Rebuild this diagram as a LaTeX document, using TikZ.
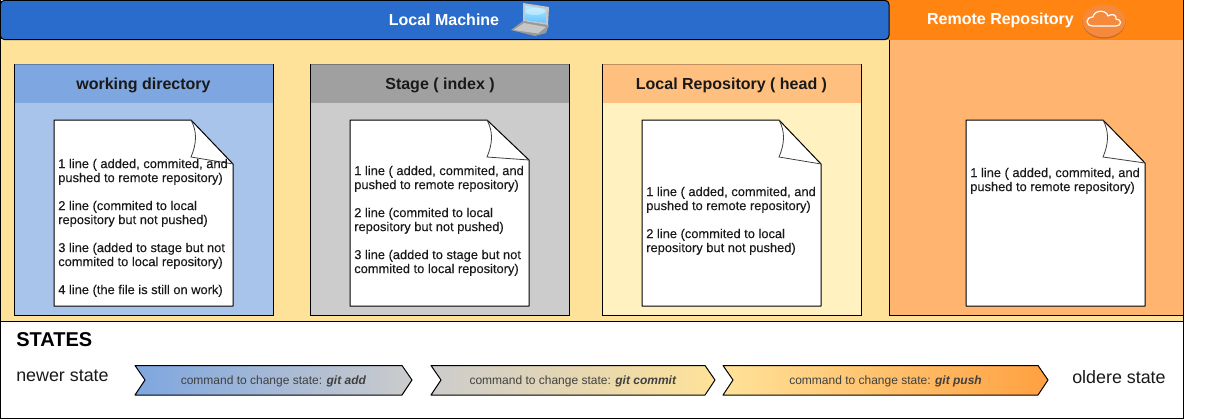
\documentclass[tikz,border=0pt]{standalone}
\usepackage{fontspec}
\setmainfont{Liberation Sans}
\newfontfamily\notefont[FakeBold=0.12]{Liberation Sans}
\usetikzlibrary{shapes.geometric}
\definecolor{cream}{HTML}{FFE299}
\definecolor{hblue}{HTML}{2A6CCB}
\definecolor{horange}{HTML}{FF8412}
\definecolor{lorange}{HTML}{FFB570}
\definecolor{lrh}{HTML}{FFC07F}
\definecolor{wdh}{HTML}{7EA6E0}
\definecolor{wdb}{HTML}{A9C4EB}
\definecolor{sth}{HTML}{A0A0A0}
\definecolor{stb}{HTML}{CCCCCC}
\definecolor{lrb}{HTML}{FFF2C0}
\definecolor{midorange}{HTML}{FFA040}
\definecolor{cloudface}{HTML}{F5893C}
\definecolor{cloudedge}{HTML}{B9652F}
\tikzset{
  x=0.75pt,y=-0.75pt,
  line/.style={draw=black,line width=0.75pt},
  paneltitle/.style={font=\fontsize{12}{14}\selectfont\bfseries,text=black!90,inner sep=0pt},
  headtitle/.style={font=\fontsize{12}{14}\selectfont\bfseries,text=white,inner sep=0pt},
  notetext/.style={font=\notefont\fontsize{9.65}{10.5}\selectfont,align=left,anchor=north west,inner sep=0pt,text=black!90},
  notepaper/.style={fill=white,draw=black,line width=0.75pt,line join=round},
  chevlabel/.style={font=\fontsize{9}{11}\selectfont,inner sep=0pt,text=black!75},
  statelabel/.style={font=\fontsize{13.4}{16}\selectfont,inner sep=0pt,text=black!90,anchor=base west},
}
\newcommand{\notepage}[2]{%
  \fill[white,notepaper] (#1,120) -- (#1+137,120) -- (#1+179,#2) -- (#1+179,306) -- (#1,306) -- cycle;
  \draw[black!75,line width=0.6pt] (#1+137,120) .. controls (#1+143,131) and (#1+143,143) .. (#1+137,157) -- (#1+179,#2);
}
\newcommand{\panelbox}[5]{%
  \fill[#5] (#1,64) rectangle (#2,#3);
  \fill[#4] (#1,64) rectangle (#2,103);
  \draw[#4!75!black,line width=0.75pt] (#1,64) -- (#2,64);
  \draw[black,line width=0.75pt] (#1,64) |- (#2,#3) -- (#2,64);
}
\newcommand{\chev}[6]{%
  \path[draw=black,line width=0.75pt,line join=round,left color=#5,right color=#6,shading angle=90]
    (#1,365.5) -- (#2,365.5) -- (#2+10,380) -- (#2,395) -- (#1,395) -- (#1+10,380) -- cycle;
  \node[chevlabel] (#3) at ({(#1+#2)/2+5},381) {#4};
}
\begin{document}
\begin{tikzpicture}
\useasboundingbox (0,0) rectangle (1220,419);
\fill[white] (0,0) rectangle (1220,419);
% local machine body
\fill[cream] (0,39) rectangle (1183,321);
\fill[lorange] (889,39) rectangle (1183,315);
\draw[line] (889,40) -- (889,315) -- (1183,315);
% headers
\fill[horange] (884,0) rectangle (1183,40);
\path[fill=hblue,draw=black,line width=0.75pt,rounded corners=3pt] (0.4,0.4) -- (889,0.4) -- (889,39.5) -- (0.4,39.5) -- cycle;
\node[headtitle] (lm) at (444,20) {Local Machine};
\node[headtitle] (rr) at (1000.5,20) {Remote Repository};
% laptop icon
\fill[gray!80] (511,30) -- (523,21) -- (549,25) -- (546,33) -- (535,36) -- cycle;
\fill[gray!45] (513.5,30) -- (524,23) -- (546,27) -- (538,33.5) -- cycle;
\fill[gray!45] (523,3) -- (549,7) -- (548,25) -- (523,21) -- cycle;
\shade[top color=blue!25!cyan!30,bottom color=blue!40!cyan!60] (525,5.5) -- (546.5,9) -- (546,23) -- (524.5,20) -- cycle;
\fill[white,opacity=0.35] (535,11.5) ellipse (10 and 3.5);
% cloud icon
\fill[cloudedge] (1104,21.8) ellipse (21.5 and 16.8);
\fill[cloudface] (1104,21) ellipse (21.5 and 16.4);
\draw[white,line width=0.9pt,line join=round] (1093,26) .. controls (1085,26) and (1085,17) .. (1093,17) .. controls (1094,10) and (1106,9) .. (1108,16) .. controls (1112,13) and (1117,15) .. (1116,19) .. controls (1122,19) and (1122,26) .. (1116,26) -- cycle;
% panels
\panelbox{14}{273}{315}{wdh}{wdb}
\panelbox{310}{569}{315}{sth}{stb}
\panelbox{602}{861}{315}{lrh}{lrb}
\node[paneltitle] (wd) at (143.5,85) {working directory};
\node[paneltitle] (st) at (440,85) {Stage ( index )};
\node[paneltitle] (lr) at (731.5,85) {Local Repository ( head )};
% note pages
\notepage{54}{164}
\notepage{350}{160}
\notepage{642}{164}
\notepage{966}{163}
\node[notetext] (n1) at (58,158.5) {1 line ( added, commited, and\\pushed to remote repository)\\[10.5pt]2 line (commited to local\\repository but not pushed)\\[10.5pt]3 line (added to stage but not\\commited to local repository)\\[10.5pt]4 line (the file is still on work)};
\node[notetext] (n2) at (354,165.5) {1 line ( added, commited, and\\pushed to remote repository)\\[10.5pt]2 line (commited to local\\repository but not pushed)\\[10.5pt]3 line (added to stage but not\\commited to local repository)};
\node[notetext] (n3) at (646,186.5) {1 line ( added, commited, and\\pushed to remote repository)\\[10.5pt]2 line (commited to local\\repository but not pushed)};
\node[notetext] (n4) at (970,167.5) {1 line ( added, commited, and\\pushed to remote repository)};
% states band
\draw[line] (0,321) -- (1183,321);
\draw[line] (0.5,0) -- (0.5,418.5) -- (1183.5,418.5) -- (1183.5,0);
\node[font=\fontsize{15}{18}\selectfont\bfseries,inner sep=0pt,anchor=base west] (states) at (16,346) {STATES};
\node[statelabel] (newer) at (16,381) {newer state};
\node[statelabel] (older) at (1072,383) {oldere state};
\chev{135}{402}{c1}{command to change state: \textbf{\textit{git add}}}{wdh}{stb}
\chev{431}{705}{c2}{command to change state: \textbf{\textit{git commit}}}{stb}{cream}
\chev{723}{1038}{c3}{command to change state: \textbf{\textit{git push}}}{cream}{midorange}
\end{tikzpicture}
\end{document}
